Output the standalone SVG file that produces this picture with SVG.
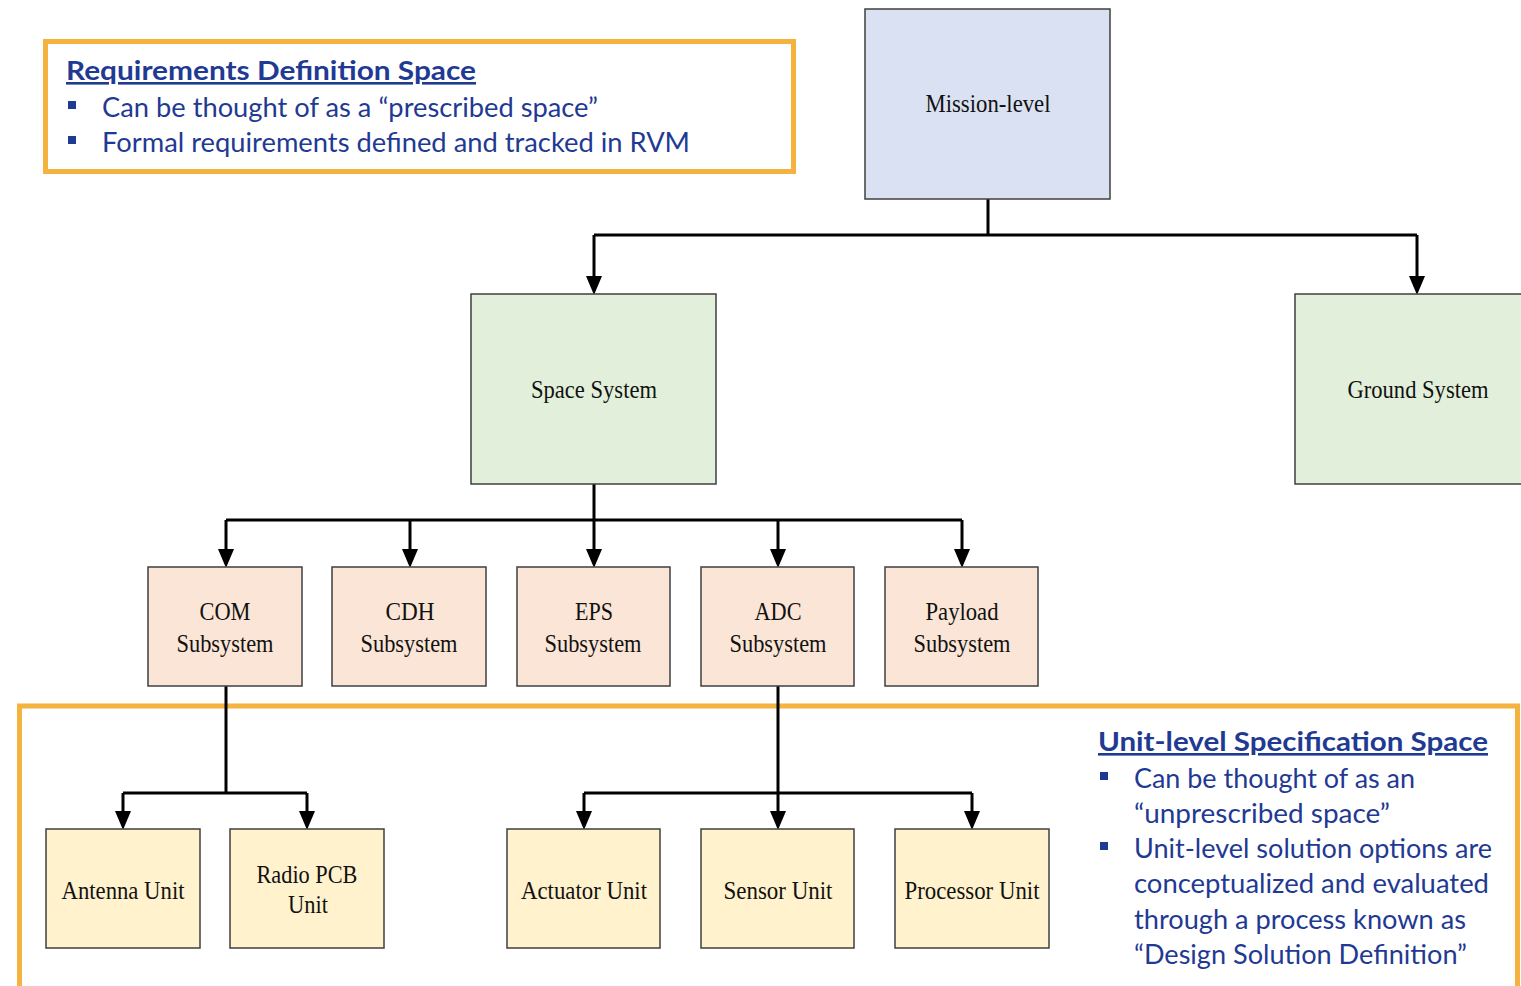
<svg xmlns="http://www.w3.org/2000/svg" width="1521" height="986" viewBox="0 0 1521 986">
  <style>
    .frame { fill: none; stroke: #F4B23F; stroke-width: 5; }
    .box { stroke: #3F3F3F; stroke-width: 1.5; }
    .mission { fill: #DAE1F3; }
    .system { fill: #E2EFDA; }
    .sub { fill: #FBE5D6; }
    .unit { fill: #FFF2CC; }
    .lbl { font-family: "Liberation Serif", "Times New Roman", serif; font-size: 25px; fill: #111; text-anchor: middle; }
    .note { font-family: Lato, "Open Sans", "Liberation Sans", sans-serif; font-size: 26px; fill: #1F3A93; }
    .title { font-weight: bold; text-decoration: underline; }
    .bullet { fill: #1F3A93; }
    .trunk { fill: none; stroke: #000; stroke-width: 3; }
    .arrow { fill: none; stroke: #000; stroke-width: 3; marker-end: url(#down); }
  </style>
  <defs>
    <!-- downward filled arrowhead; base sits on the line end, tip 19px below -->
    <marker id="down" markerUnits="userSpaceOnUse" markerWidth="16" markerHeight="20" refX="8" refY="0" orient="0" viewBox="0 0 16 20">
      <path d="M0,0 L16,0 L8,19 Z" fill="#000"/>
    </marker>
  </defs>

  <rect width="1521" height="986" fill="#fff"/>

  <!-- Requirements definition note -->
  <g id="req-space">
    <rect class="frame" x="45.5" y="41.5" width="748" height="130"/>
    <text class="note title" x="66" y="80" textLength="410" lengthAdjust="spacingAndGlyphs">Requirements Definition Space</text>
    <rect class="bullet" x="68" y="101" width="8" height="8"/>
    <text class="note" x="102" y="117" textLength="496" lengthAdjust="spacingAndGlyphs">Can be thought of as a “prescribed space”</text>
    <rect class="bullet" x="68" y="136" width="8" height="8"/>
    <text class="note" x="102" y="152" textLength="588" lengthAdjust="spacingAndGlyphs">Formal requirements defined and tracked in RVM</text>
  </g>

  <!-- Unit-level specification frame -->
  <g id="unit-space">
    <rect class="frame" x="19.5" y="706" width="1498" height="290"/>
    <text class="note title" x="1098" y="751" textLength="390" lengthAdjust="spacingAndGlyphs">Unit-level Specification Space</text>
    <rect class="bullet" x="1100" y="772" width="8" height="8"/>
    <text class="note" x="1134" y="788" textLength="281" lengthAdjust="spacingAndGlyphs">Can be thought of as an</text>
    <text class="note" x="1134" y="823" textLength="256" lengthAdjust="spacingAndGlyphs">“unprescribed space”</text>
    <rect class="bullet" x="1100" y="842" width="8" height="8"/>
    <text class="note" x="1134" y="858" textLength="358" lengthAdjust="spacingAndGlyphs">Unit-level solution options are</text>
    <text class="note" x="1134" y="893" textLength="355" lengthAdjust="spacingAndGlyphs">conceptualized and evaluated</text>
    <text class="note" x="1134" y="929" textLength="332" lengthAdjust="spacingAndGlyphs">through a process known as</text>
    <text class="note" x="1134" y="964" textLength="333" lengthAdjust="spacingAndGlyphs">“Design Solution Definition”</text>
  </g>

  <!-- Connectors -->
  <g id="connectors">
    <path class="trunk" d="M988,199 V235 M594,235 H1417 M594,484 V520 M226,520 H962 M226,686 V793 M123,793 H307 M778,686 V793 M584,793 H972"/>
    <path class="arrow" d="M594,235 V276"/>
    <path class="arrow" d="M1417,235 V276"/>
    <path class="arrow" d="M226,520 V549"/>
    <path class="arrow" d="M410,520 V549"/>
    <path class="arrow" d="M594,520 V549"/>
    <path class="arrow" d="M778,520 V549"/>
    <path class="arrow" d="M962,520 V549"/>
    <path class="arrow" d="M123,793 V811"/>
    <path class="arrow" d="M307,793 V811"/>
    <path class="arrow" d="M584,793 V811"/>
    <path class="arrow" d="M778,793 V811"/>
    <path class="arrow" d="M972,793 V811"/>
  </g>

  <!-- Level 0 -->
  <g id="mission">
    <rect class="box mission" x="865" y="9" width="245" height="190"/>
    <text class="lbl" x="988" y="112" textLength="125" lengthAdjust="spacingAndGlyphs">Mission-level</text>
  </g>

  <!-- Level 1 -->
  <g id="space-system">
    <rect class="box system" x="471" y="294" width="245" height="190"/>
    <text class="lbl" x="594" y="398" textLength="126" lengthAdjust="spacingAndGlyphs">Space System</text>
  </g>
  <g id="ground-system">
    <rect class="box system" x="1295" y="294" width="240" height="190"/>
    <text class="lbl" x="1418" y="398" textLength="141" lengthAdjust="spacingAndGlyphs">Ground System</text>
  </g>

  <!-- Level 2: subsystems -->
  <g id="com">
    <rect class="box sub" x="148" y="567" width="154" height="119"/>
    <text class="lbl" x="225" y="620" textLength="51" lengthAdjust="spacingAndGlyphs">COM</text>
    <text class="lbl" x="225" y="652" textLength="97" lengthAdjust="spacingAndGlyphs">Subsystem</text>
  </g>
  <g id="cdh">
    <rect class="box sub" x="332" y="567" width="154" height="119"/>
    <text class="lbl" x="410" y="620" textLength="49" lengthAdjust="spacingAndGlyphs">CDH</text>
    <text class="lbl" x="409" y="652" textLength="97" lengthAdjust="spacingAndGlyphs">Subsystem</text>
  </g>
  <g id="eps">
    <rect class="box sub" x="517" y="567" width="153" height="119"/>
    <text class="lbl" x="594" y="620" textLength="38" lengthAdjust="spacingAndGlyphs">EPS</text>
    <text class="lbl" x="593" y="652" textLength="97" lengthAdjust="spacingAndGlyphs">Subsystem</text>
  </g>
  <g id="adc">
    <rect class="box sub" x="701" y="567" width="153" height="119"/>
    <text class="lbl" x="778" y="620" textLength="47" lengthAdjust="spacingAndGlyphs">ADC</text>
    <text class="lbl" x="778" y="652" textLength="97" lengthAdjust="spacingAndGlyphs">Subsystem</text>
  </g>
  <g id="payload">
    <rect class="box sub" x="885" y="567" width="153" height="119"/>
    <text class="lbl" x="962" y="620" textLength="73" lengthAdjust="spacingAndGlyphs">Payload</text>
    <text class="lbl" x="962" y="652" textLength="97" lengthAdjust="spacingAndGlyphs">Subsystem</text>
  </g>

  <!-- Level 3: units -->
  <g id="antenna">
    <rect class="box unit" x="46" y="829" width="154" height="119"/>
    <text class="lbl" x="123" y="899" textLength="123" lengthAdjust="spacingAndGlyphs">Antenna Unit</text>
  </g>
  <g id="radio-pcb">
    <rect class="box unit" x="230" y="829" width="154" height="119"/>
    <text class="lbl" x="307" y="883" textLength="101" lengthAdjust="spacingAndGlyphs">Radio PCB</text>
    <text class="lbl" x="308" y="913" textLength="40" lengthAdjust="spacingAndGlyphs">Unit</text>
  </g>
  <g id="actuator">
    <rect class="box unit" x="507" y="829" width="153" height="119"/>
    <text class="lbl" x="584" y="899" textLength="126" lengthAdjust="spacingAndGlyphs">Actuator Unit</text>
  </g>
  <g id="sensor">
    <rect class="box unit" x="701" y="829" width="153" height="119"/>
    <text class="lbl" x="778" y="899" textLength="109" lengthAdjust="spacingAndGlyphs">Sensor Unit</text>
  </g>
  <g id="processor">
    <rect class="box unit" x="895" y="829" width="154" height="119"/>
    <text class="lbl" x="972" y="899" textLength="135" lengthAdjust="spacingAndGlyphs">Processor Unit</text>
  </g>
</svg>
